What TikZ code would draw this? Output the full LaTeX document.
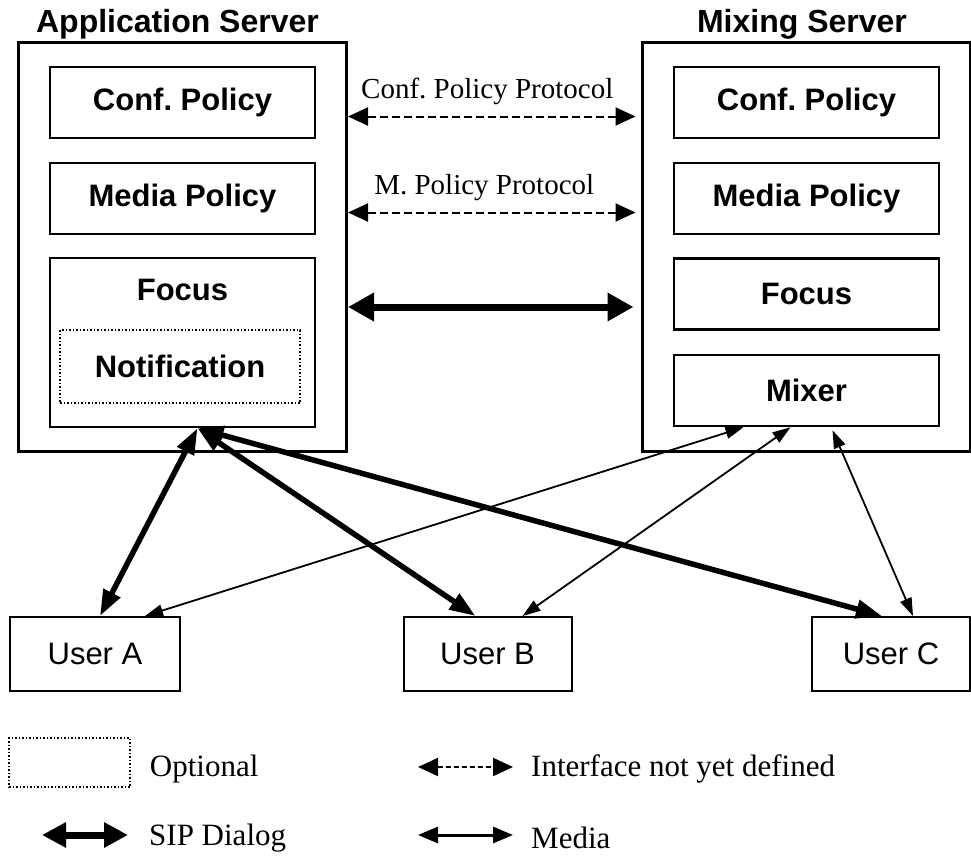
\documentclass[tikz,border=0pt]{standalone}
\usepackage{fontspec}
\setmainfont{Liberation Serif}
\newfontfamily\boxfont{Liberation Sans}
\usetikzlibrary{positioning}
\usetikzlibrary{calc}
\usetikzlibrary{arrows.meta}

\begin{document}
\frenchspacing
\begin{tikzpicture}[x=1pt,y=-1pt,
             server/.style={draw, line width=3pt, minimum width=328pt,
                minimum height=408pt, inner sep=0pt},
             block/.style={draw, line width=2.5pt, minimum width=265pt,
                minimum height=71pt, inner sep=0pt, lbl},
             lbl/.style={inner sep=0pt, font=\boxfont\bfseries\fontsize{31}{31}\selectfont},
             optional/.style={draw, dotted, line width=1.5pt, inner sep=0pt, lbl},
             title/.style={inner sep=0pt, font=\boxfont\bfseries\fontsize{32}{32}\selectfont},
             user/.style={draw, line width=2pt, minimum width=168pt, minimum height=74pt,
                inner sep=0pt, font=\boxfont\fontsize{31}{31}\selectfont},
             proto/.style={inner sep=0pt, font=\fontsize{29}{29}\selectfont},
             legend/.style={inner sep=0pt, font=\fontsize{31}{31}\selectfont},
             undefined/.style={{Triangle[length=20pt,width=18pt]}-{Triangle[length=20pt,width=18pt]},
                line width=2pt, dash pattern=on 8pt off 4pt},
             sip/.style={{Triangle[length=26pt,width=18pt]}-{Triangle[length=26pt,width=18pt]},
                line width=5.5pt},
             bigsip/.style={{Triangle[length=26pt,width=27pt]}-{Triangle[length=26pt,width=27pt]},
                line width=7pt},
             media/.style={{Triangle[length=18pt,width=12pt]}-{Triangle[length=18pt,width=12pt]},
                line width=1.8pt},
          ]
          \useasboundingbox (0,0) rectangle (971,859);

          % servers
          \node at (182.5,247) (appsrv) [server] {};
          \node at (806,247) (mixsrv) [server] {};
          \node[title, above=2pt of appsrv, xshift=-5pt] (apptitle) {Application Server};
          \node[title, above=2pt of mixsrv, xshift=-4pt] (mixtitle) {Mixing Server};

          \node at (182.5,102.5) (aconf) [block] {Conf. Policy};
          \node at (182.5,198.5) (amedia) [block] {Media Policy};
          \node at (182.5,342.5) (afocus) [block, minimum height=169pt] {};
          \node[lbl, below=22pt of afocus.north] (afocustxt) {Focus};
          \node at (180,366.5) (notif) [optional, minimum width=240pt, minimum height=73pt] {Notification};

          \node at (806.5,102.5) (mconf) [block] {Conf. Policy};
          \node at (806.5,198.5) (mmedia) [block] {Media Policy};
          \node at (806.5,294) (mfocus) [block] {Focus};
          \node at (806.5,390.5) (mixer) [block] {Mixer};

          % users
          \node at (95,654) (ua) [user, minimum width=170pt] {User A};
          \node at (487.5,654) (ub) [user] {User B};
          \node at (891,654) (uc) [user, minimum width=158pt] {User C};

          % server to server
          \coordinate (cpp) at ($(mconf.west)+(0,14)$);
          \coordinate (mpp) at ($(mmedia.west)+(0,14)$);
          \coordinate (fcs) at ($(mfocus.west)+(0,13)$);
          \draw[undefined, shorten >=5pt] (appsrv.east |- cpp) -- (mixsrv.west |- cpp)
             node[proto, midway, above=11pt, xshift=-7pt] {Conf. Policy Protocol};
          \draw[undefined, shorten >=5pt] (appsrv.east |- mpp) -- (mixsrv.west |- mpp)
             node[proto, midway, above=11pt, xshift=-10pt] {M. Policy Protocol};
          \draw[bigsip, shorten >=7pt] (appsrv.east |- fcs) -- (mixsrv.west |- fcs);

          % signalling and media
          \coordinate (hub) at ($(afocus.south)+(15,0)$);
          \draw[sip] (hub) -- ($(ua.north)+(5,0)$);
          \draw[sip] (hub) -- ($(ub.north)+(-12,0)$);
          \draw[sip] (hub) -- ($(uc.north)+(-9,0)$);
          \draw[media] ($(mixer.south)+(-63,0)$) -- ($(ua.north)+(50,0)$);
          \draw[media] ($(mixer.south)+(-16,0)$) -- ($(ub.north)+(35,0)$);
          \draw[media] ($(mixer.south)+(26,3)$) -- ($(uc.north)+(22,0)$);

          % legend
          \node at (69.5,762.5) (optbox) [optional, minimum width=121pt, minimum height=49pt] {};
          \node[legend, right=19pt of optbox, yshift=-7pt] (opttxt) {Optional};
          \coordinate (undefl) at (418,767);
          \coordinate (undefr) at (513,767);
          \draw[undefined, dash pattern=on 5pt off 3pt] (undefl) -- (undefr);
          \node[legend, right=18pt of undefr, yshift=-2pt] (undeftxt) {Interface not yet defined};
          \coordinate (sipl) at (42,835);
          \coordinate (sipr) at (128,835);
          \draw[sip, {Triangle[length=24pt,width=24pt]}-{Triangle[length=24pt,width=24pt]}, line width=7pt] (sipl) -- (sipr);
          \node[legend, right=21pt of sipr, yshift=-3pt] (siptxt) {SIP Dialog};
          \coordinate (medl) at (418,835);
          \coordinate (medr) at (513,835);
          \draw[media, {Triangle[length=20pt,width=16pt]}-{Triangle[length=20pt,width=16pt]}, line width=3pt] (medl) -- (medr);
          \node[legend, right=18pt of medr, yshift=-3pt] (medtxt) {Media};

       \end{tikzpicture}
\end{document}
